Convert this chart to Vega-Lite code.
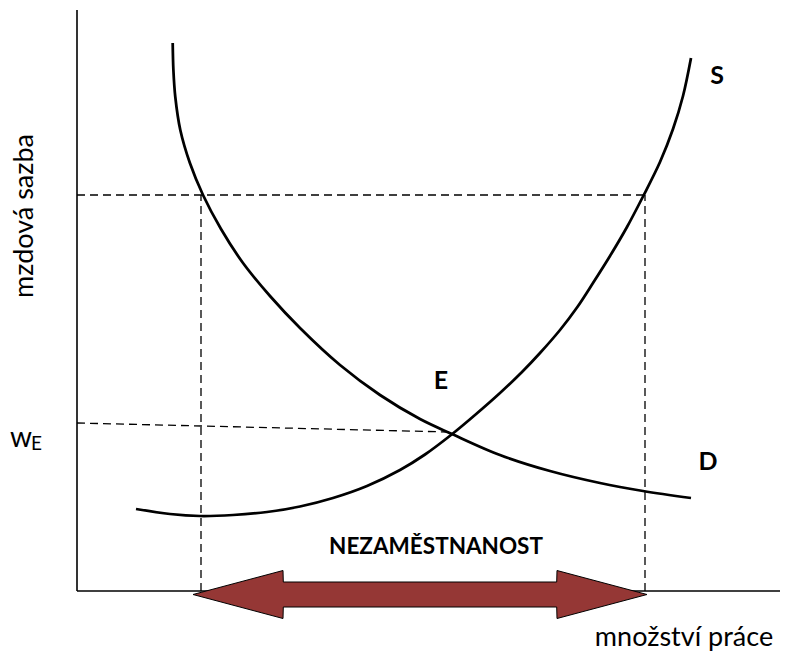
{
  "$schema": "https://vega.github.io/schema/vega-lite/v6.json",
  "width": 807,
  "height": 652,
  "autosize": {"type": "fit", "contains": "padding"},
  "padding": 0,
  "background": "white",
  "config": {"view": {"stroke": null}, "text": {"font": "Lato", "color": "black"}},
  "datasets": {
    "axes": [
      {"q": 0, "w": 0, "q2": 703, "w2": 0},
      {"q": 0, "w": 0, "q2": 0, "w2": 581}
    ],
    "guides": [
      {"q": 0, "w": 396, "q2": 568, "w2": 396},
      {"q": 124, "w": 0, "q2": 124, "w2": 396},
      {"q": 568, "w": 0, "q2": 568, "w2": 396},
      {"q": 0, "w": 168, "q2": 372, "w2": 159}
    ],
    "arrow": [
      {"q": 116, "t": -3.5, "b": -3.5},
      {"q": 206, "t": 20.5, "b": -27.5},
      {"q": 206.3, "t": 9, "b": -16},
      {"q": 479.7, "t": 9, "b": -16},
      {"q": 480, "t": 20.5, "b": -27.5},
      {"q": 570, "t": -3.5, "b": -3.5}
    ],
    "curves": [
      {"curve": "D", "q": 95.7, "w": 548},
      {"curve": "D", "q": 96.4, "w": 521},
      {"curve": "D", "q": 98.3, "w": 494},
      {"curve": "D", "q": 103.3, "w": 461},
      {"curve": "D", "q": 112.9, "w": 428},
      {"curve": "D", "q": 126, "w": 396},
      {"curve": "D", "q": 144, "w": 362},
      {"curve": "D", "q": 166, "w": 328},
      {"curve": "D", "q": 193, "w": 295},
      {"curve": "D", "q": 223, "w": 263},
      {"curve": "D", "q": 263, "w": 226},
      {"curve": "D", "q": 303, "w": 196},
      {"curve": "D", "q": 343, "w": 172},
      {"curve": "D", "q": 375, "w": 157},
      {"curve": "D", "q": 423, "w": 136},
      {"curve": "D", "q": 473, "w": 120},
      {"curve": "D", "q": 523, "w": 108},
      {"curve": "D", "q": 566, "w": 100},
      {"curve": "D", "q": 614, "w": 93},
      {"curve": "S", "q": 59, "w": 82},
      {"curve": "S", "q": 93, "w": 77},
      {"curve": "S", "q": 123, "w": 75},
      {"curve": "S", "q": 156, "w": 76},
      {"curve": "S", "q": 190, "w": 79},
      {"curve": "S", "q": 223, "w": 84.5},
      {"curve": "S", "q": 256, "w": 93},
      {"curve": "S", "q": 290, "w": 105},
      {"curve": "S", "q": 323, "w": 121},
      {"curve": "S", "q": 348, "w": 136.5},
      {"curve": "S", "q": 374, "w": 156},
      {"curve": "S", "q": 398, "w": 176},
      {"curve": "S", "q": 423, "w": 198},
      {"curve": "S", "q": 445, "w": 219},
      {"curve": "S", "q": 463, "w": 238},
      {"curve": "S", "q": 483, "w": 261},
      {"curve": "S", "q": 500, "w": 283.5},
      {"curve": "S", "q": 516, "w": 308},
      {"curve": "S", "q": 533, "w": 335},
      {"curve": "S", "q": 550, "w": 364},
      {"curve": "S", "q": 566, "w": 394.5},
      {"curve": "S", "q": 583, "w": 429},
      {"curve": "S", "q": 596, "w": 462},
      {"curve": "S", "q": 606, "w": 495},
      {"curve": "S", "q": 614, "w": 533}
    ],
    "curveLabels": [
      {"q": 640, "w": 507, "label": "S"},
      {"q": 364, "w": 202, "label": "E"},
      {"q": 631, "w": 121, "label": "D"}
    ],
    "bandLabel": [{"q": 359, "w": 37, "label": "NEZAMĚSTNANOST"}],
    "xTitle": [{"q": 607, "w": -55, "label": "množství práce"}],
    "yTitle": [{"q": -44, "w": 375, "label": "mzdová sazba"}],
    "wMain": [{"q": -67, "w": 144, "label": "w"}],
    "wSub": [{"q": -46, "w": 141, "label": "E"}]
  },
  "encoding": {
    "x": {"field": "q", "type": "quantitative", "scale": {"domain": [-77, 730], "nice": false, "zero": false}, "axis": null},
    "y": {"field": "w", "type": "quantitative", "scale": {"domain": [-61, 591], "nice": false, "zero": false}, "axis": null}
  },
  "layer": [
    {
      "data": {"name": "axes"},
      "mark": {"type": "rule", "color": "black", "strokeWidth": 1.6},
      "encoding": {"x2": {"field": "q2"}, "y2": {"field": "w2"}}
    },
    {
      "data": {"name": "guides"},
      "mark": {"type": "rule", "color": "black", "strokeWidth": 1.3, "strokeDash": [8, 5]},
      "encoding": {"x2": {"field": "q2"}, "y2": {"field": "w2"}}
    },
    {
      "data": {"name": "arrow"},
      "mark": {"type": "area", "fill": "#953735", "fillOpacity": 1, "stroke": "black", "strokeWidth": 1, "interpolate": "linear"},
      "encoding": {
        "y": {"field": "t", "type": "quantitative"},
        "y2": {"field": "b"}
      }
    },
    {
      "data": {"name": "curves"},
      "mark": {"type": "line", "color": "black", "strokeWidth": 2.75, "interpolate": "catmull-rom"},
      "encoding": {"detail": {"field": "curve"}}
    },
    {
      "data": {"name": "curveLabels"},
      "mark": {"type": "text", "fontSize": 25, "fontWeight": "bold", "align": "center", "baseline": "alphabetic"},
      "encoding": {"text": {"field": "label"}}
    },
    {
      "data": {"name": "bandLabel"},
      "mark": {"type": "text", "fontSize": 22.5, "fontWeight": "bold", "align": "center", "baseline": "alphabetic"},
      "encoding": {"text": {"field": "label"}}
    },
    {
      "data": {"name": "xTitle"},
      "mark": {"type": "text", "fontSize": 27, "align": "center", "baseline": "alphabetic"},
      "encoding": {"text": {"field": "label"}}
    },
    {
      "data": {"name": "yTitle"},
      "mark": {"type": "text", "fontSize": 27, "angle": 270, "align": "center", "baseline": "alphabetic"},
      "encoding": {"text": {"field": "label"}}
    },
    {
      "data": {"name": "wMain"},
      "mark": {"type": "text", "fontSize": 28, "align": "left", "baseline": "alphabetic"},
      "encoding": {"text": {"field": "label"}}
    },
    {
      "data": {"name": "wSub"},
      "mark": {"type": "text", "fontSize": 19, "align": "left", "baseline": "alphabetic"},
      "encoding": {"text": {"field": "label"}}
    }
  ]
}
